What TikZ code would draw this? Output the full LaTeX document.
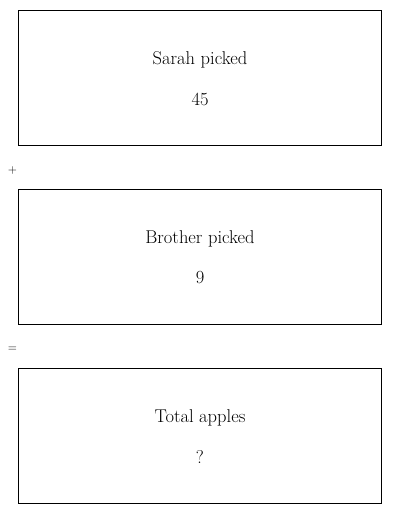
\documentclass[tikz,border=0pt]{standalone}
\usepackage{tikz}
\usetikzlibrary{positioning}

\begin{document}
\begin{tikzpicture}[x=1pt,y=-1pt,
  partbox/.style={draw, line width=0.8pt, minimum width=363pt, minimum height=135pt, inner sep=0pt},
  parttext/.style={font=\fontsize{18.5}{22}\selectfont, inner sep=0pt},
  opsign/.style={font=\fontsize{13}{15}\selectfont, inner sep=0pt}]
\useasboundingbox (0,0) rectangle (400,514);

\node[partbox](sarah) at (200,77.5) {};
\node[partbox](brother) at (200,256.5) {};
\node[partbox](total) at (200,435.5) {};

\node[parttext](sarahlabel) at (200,60) {Sarah picked};
\node[parttext](sarahvalue) at (200,99) {45};

\node[parttext](brotherlabel) at (200,239) {Brother picked};
\node[parttext](brothervalue) at (200,278) {9};

\node[parttext](totallabel) at (200,418) {Total apples};
\node[parttext](totalvalue) at (200,457) {?};

\node[opsign](plus) at (12.5,170) {$+$};
\node[opsign](equals) at (12.5,349) {$=$};

\end{tikzpicture}
\end{document}
